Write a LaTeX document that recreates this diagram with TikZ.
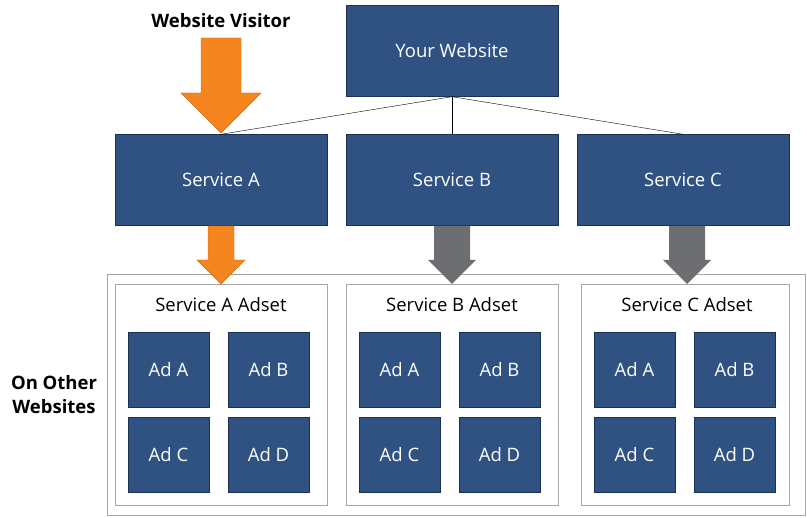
\documentclass[tikz,border=0pt]{standalone}
\usepackage{fontspec}
\setmainfont{Open Sans}
\usetikzlibrary{positioning}
\definecolor{boxblue}{HTML}{2F5283}
\definecolor{visorange}{HTML}{F5851F}
\definecolor{arrgray}{HTML}{6D6E71}
\tikzset{
  blk/.style={fill=boxblue, draw=boxblue!60!black, text=white, minimum width=212pt, minimum height=91pt, inner sep=0pt, font=\fontsize{18.5}{22}\selectfont},
  ad/.style={fill=boxblue, draw=boxblue!60!black, text=white, minimum width=81pt, minimum height=75pt, inner sep=0pt, font=\fontsize{18.5}{22}\selectfont},
  adset/.style={draw=gray!70, fill=white, minimum width=212pt, minimum height=221pt, inner sep=0pt},
  label/.style={font=\fontsize{18.5}{22}\selectfont}
}
\begin{document}
\begin{tikzpicture}[x=1pt,y=-1pt]
  \useasboundingbox (0,0) rectangle (807,518);
  \node [blk] (site) at (452,51) {Your Website};
  \node [blk] (svcA) at (221,180) {Service A};
  \node [blk] (svcB) at (452,180) {Service B};
  \node [blk] (svcC) at (683,180) {Service C};
  \foreach \s in {svcA,svcB,svcC}{
    \draw [thin] (site.south) -- (\s.north);
  };

  % other websites
  \node [draw=gray!70, minimum width=698pt, minimum height=241pt, inner sep=0pt] (other) at (456,394.5) {};
  \node [adset] (setA) at (221,394.5) {};
  \node [adset] (setB) at (452,394.5) {};
  \node [adset, minimum width=208pt] (setC) at (685,394.5) {};
  \node [label] at (221,305) {Service A Adset};
  \node [label] at (452,305) {Service B Adset};
  \node [label] at (687,305) {Service C Adset};
  \foreach \n/\x in {A/168.5,B/399.5,C/634.5}{
    \node [ad] (\n-a) at (\x,369.5) {Ad A};
    \node [ad] (\n-b) at (\x+100,369.5) {Ad B};
    \node [ad] (\n-c) at (\x,454.5) {Ad C};
    \node [ad] (\n-d) at (\x+100,454.5) {Ad D};
  };
  \node [font=\bfseries\fontsize{18.5}{24}\selectfont, align=center] (onother) at (54,395) {On Other\\Websites};

  % arrows
  \node [font=\bfseries\fontsize{18.5}{22}\selectfont] (visitor) at (221,21) {Website Visitor};
  \fill [visorange, draw=visorange!80!black] (201,38) -- (241,38) -- (241,93) -- (261,93) -- (221,133) -- (181,93) -- (201,93) -- cycle;
  \fill [visorange, draw=visorange!80!black] (208,226) -- (234,226) -- (234,260) -- (245,260) -- (221,284) -- (197,260) -- (208,260) -- cycle;
  \foreach \x in {452,687}{
    \fill [arrgray] (\x-18,226) -- (\x+18,226) -- (\x+18,260) -- (\x+24,260) -- (\x,284) -- (\x-24,260) -- (\x-18,260) -- cycle;
  };
\end{tikzpicture}
\end{document}
